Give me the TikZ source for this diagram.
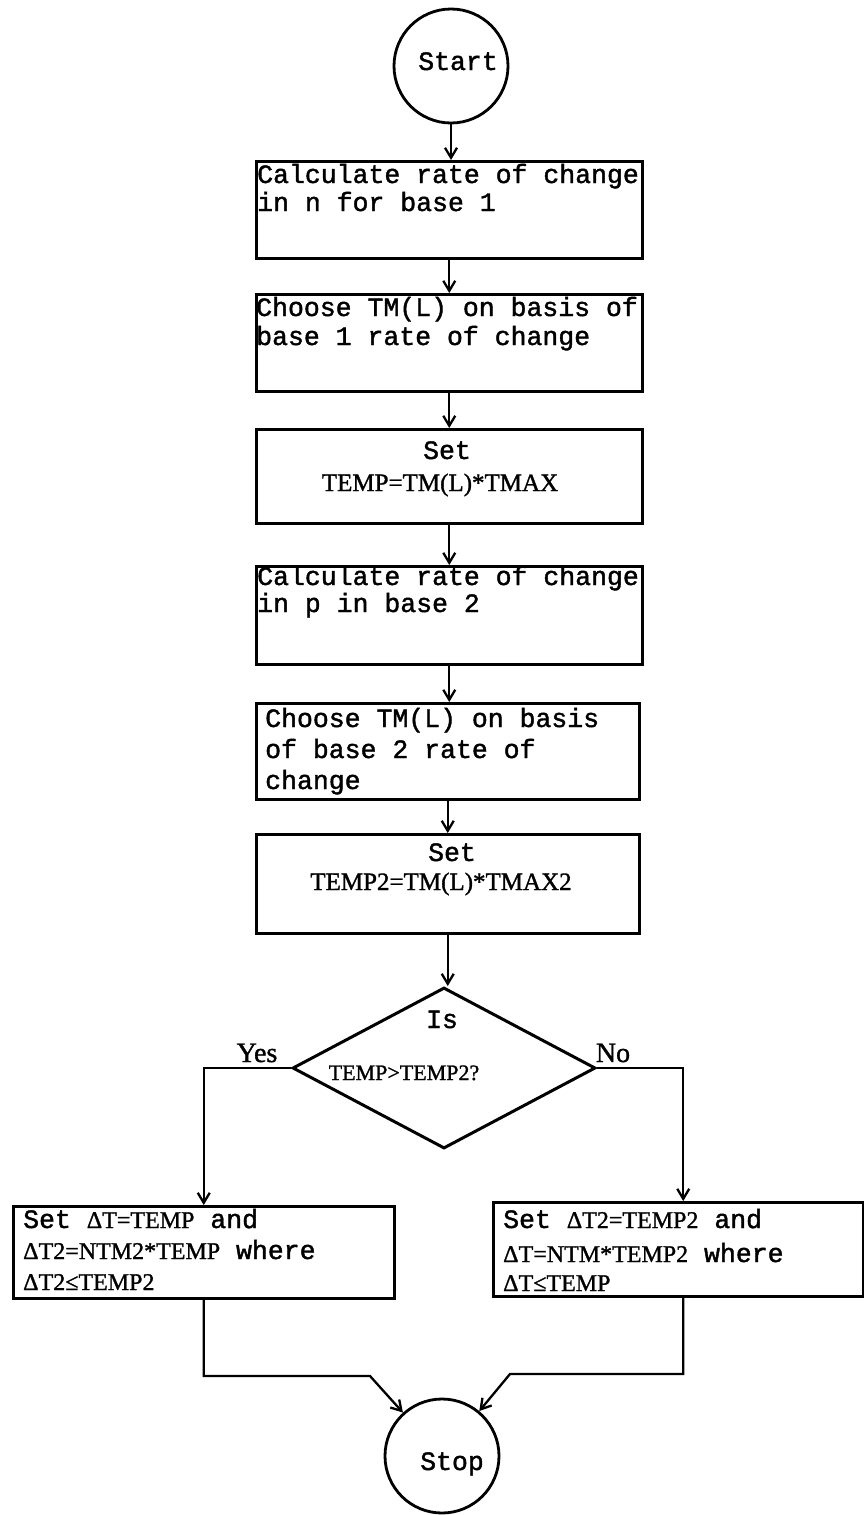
\documentclass[tikz,border=0pt]{standalone}
\usepackage{fontspec}
\setmainfont{Liberation Serif}
\newfontfamily\tw[FakeBold=1.5]{Liberation Mono}
\newfontfamily\fm[FakeBold=1.2]{Liberation Serif}
\newcommand\frmla{\fm\fontsize{24}{26}\selectfont}
\usetikzlibrary{arrows.meta,shapes.geometric}
\begin{document}
\begin{tikzpicture}[x=1pt,y=-1pt,
  box/.style={draw, line width=2.5pt, rectangle, anchor=north west, inner sep=0},
  circ/.style={draw, line width=2.8pt, circle, minimum size=114pt, inner sep=0},
  mono/.style={font=\tw\fontsize{26.5}{28}\selectfont, inner sep=0},
  ser/.style={font=\fm\fontsize{25}{27}\selectfont, inner sep=0},
  arr/.style={line width=2.3pt, -{Straight Barb[length=10pt,width=12pt]}}]
\useasboundingbox (0,0) rectangle (864,1515);

% terminals
\node[circ] (start) at (451,66) {};
\node[mono, anchor=base] (tstart) at (458,70) {Start};
\node[circ] (stop) at (442,1456) {};
\node[mono, anchor=base] (tstop) at (452,1470) {Stop};

% process boxes
\node[box, minimum width=386pt, minimum height=97pt] (b1) at (255,160) {};
\node[box, minimum width=386pt, minimum height=97pt] (b2) at (255,293) {};
\node[box, minimum width=386pt, minimum height=94pt] (b3) at (255,428) {};
\node[box, minimum width=386pt, minimum height=98pt] (b4) at (255,565) {};
\node[box, minimum width=383pt, minimum height=96pt] (b5) at (255,702) {};
\node[box, minimum width=383pt, minimum height=99pt] (b6) at (255,833) {};
\node[box, minimum width=381pt, minimum height=92pt] (lb) at (12,1205) {};
\node[box, minimum width=370pt, minimum height=94pt] (rb) at (492,1201) {};

% decision
\node[draw, diamond, line width=3pt, minimum width=303pt, minimum height=161pt, inner sep=0] (dec) at (444,1068) {};

% texts
\node[mono, anchor=base west] (t1a) at (257,183) {Calculate rate of change};
\node[mono, anchor=base west] (t1b) at (257,211) {in n for base 1};
\node[mono, anchor=base west] (t2a) at (256,316) {Choose TM(L) on basis of};
\node[mono, anchor=base west] (t2b) at (256,345) {base 1 rate of change};
\node[mono, anchor=base] (t3a) at (447,459) {Set};
\node[ser, anchor=base] (t3b) at (440,491) {TEMP=TM(L)*TMAX};
\node[mono, anchor=base west] (t4a) at (257,585) {Calculate rate of change};
\node[mono, anchor=base west] (t4b) at (257,612) {in p in base 2};
\node[mono, anchor=base west] (t5a) at (265,727) {Choose TM(L) on basis};
\node[mono, anchor=base west] (t5b) at (265,758) {of base 2 rate of};
\node[mono, anchor=base west] (t5c) at (265,789) {change};
\node[mono, anchor=base] (t6a) at (452,861) {Set};
\node[ser, anchor=base] (t6b) at (441,890) {TEMP2=TM(L)*TMAX2};
\node[mono, anchor=base] (tis) at (442,1028) {Is};
\node[font=\fm\fontsize{22}{24}\selectfont, inner sep=0, anchor=base] (tq) at (404,1080) {TEMP>TEMP2?};
\node[font=\fm\fontsize{28}{30}\selectfont, inner sep=0, anchor=base] (tyes) at (257,1062) {Yes};
\node[font=\fm\fontsize{28}{30}\selectfont, inner sep=0, anchor=base] (tno) at (613,1062) {No};
\node[mono, anchor=base west] (l1) at (23,1228) {Set {\frmla ΔT=TEMP} and};
\node[mono, anchor=base west] (l2) at (23,1259) {{\frmla ΔT2=NTM2*TEMP} where};
\node[mono, anchor=base west] (l3) at (23,1290) {{\frmla ΔT2≤TEMP2}};
\node[mono, anchor=base west] (r1) at (503,1228) {Set {\frmla ΔT2=TEMP2} and};
\node[mono, anchor=base west] (r2) at (503,1262) {{\frmla ΔT=NTM*TEMP2} where};
\node[mono, anchor=base west] (r3) at (503,1291) {{\frmla ΔT≤TEMP}};

% connectors
\draw[arr] (start.south) -- (start.south |- b1.north);
\draw[arr] (b1.south) -- (b1.south |- b2.north);
\draw[arr] (b2.south) -- (b2.south |- b3.north);
\draw[arr] (b3.south) -- (b3.south |- b4.north);
\draw[arr] (b4.south) -- (b4.south |- b5.north);
\draw[arr] (b5.south) -- (b5.south |- b6.north);
\draw[arr] (b6.south) -- (b6.south |- dec.north);
\draw[arr] (dec.west) -| (lb.north);
\draw[arr] (dec.east) -| ([xshift=5pt]rb.north);
\coordinate (ml) at (370,1376);
\coordinate (mr) at (510,1374);
\draw[arr] (lb.south) |- (ml) -- (stop);
\draw[arr] ([xshift=5pt]rb.south) |- (mr) -- (stop);
\end{tikzpicture}
\end{document}
